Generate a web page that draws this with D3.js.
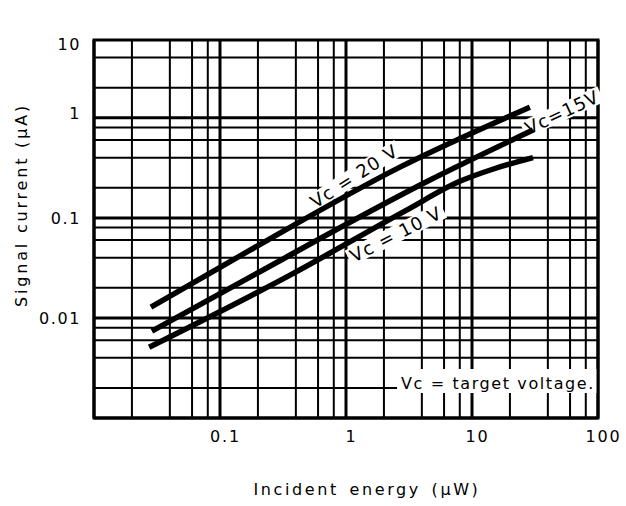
<!DOCTYPE html>
<html>
<head>
<meta charset="utf-8">
<script src="https://cdn.jsdelivr.net/npm/d3@7"></script>
<style>
  html, body { margin: 0; padding: 0; background: #fff; }
  svg { display: block; }
  text { font-family: "DejaVu Sans", sans-serif; fill: #000; }
</style>
</head>
<body>
<svg id="chart" width="626" height="506"></svg>
<script>
// ---- data ----
const xTickValues = [0.1, 1, 10, 100];
const xTickLabels = ["0.1", "1", "10", "100"];
const yTickValues = [0.01, 0.1, 1, 10];
const yTickLabels = ["0.01", "0.1", "1", "10"];
const xDecades = [0.01, 0.1, 1, 10, 100];
const yDecades = [0.001, 0.01, 0.1, 1];
const gridMultipliers = [2, 4, 6, 8];

const seriesNames = ["Vc = 20 V", "Vc=15V", "Vc = 10 V"];
const energy20 = [0.0283, 0.173, 2.68, 28.8];
const current20 = [0.0128, 0.0476, 0.322, 1.28];
const energy15 = [0.0288, 0.173, 4.64, 30.5];
const current15 = [0.00738, 0.0256, 0.239, 0.755];
const energy10 = [0.0274, 0.36, 3.0, 8.0, 15.0, 30.5];
const current10 = [0.0051, 0.0268, 0.119, 0.232, 0.31, 0.40];

// label anchors (data coordinates) and rotation
const labelX = [1.16, 51.8, 2.49];
const labelY = [0.262, 1.14, 0.0689];
const labelAngle = [-33, -25, -27];

const legendText = "Vc = target voltage.";
const xTitle = "Incident energy (\u03bcW)";
const yTitle = "Signal current (\u03bcA)";

// ---- drawing ----
const svg = d3.select("#chart");
const x = d3.scaleLog().domain([0.01, 100]).range([94, 598]);
const y = d3.scaleLog().domain([0.001, 6]).range([418, 40]).clamp(true);

const [x0, x1] = x.range();
const [y0, y1] = y.range();

// grid values
const xGrid = [];
xDecades.forEach(d => {
  xGrid.push({v: d, major: true});
  if (d < 100) gridMultipliers.forEach(m => xGrid.push({v: d * m, major: false}));
});
const yGrid = [];
yDecades.forEach(d => {
  yGrid.push({v: d, major: true});
  gridMultipliers.forEach(m => { if (d * m < 6) yGrid.push({v: d * m, major: false}); });
});

const g = svg.append("g");
g.selectAll(".vgrid").data(xGrid).join("line")
  .attr("x1", d => x(d.v)).attr("x2", d => x(d.v))
  .attr("y1", y0).attr("y2", y1)
  .attr("stroke", "#000").attr("stroke-width", d => d.major ? 3 : 2);
g.selectAll(".hgrid").data(yGrid).join("line")
  .attr("y1", d => y(d.v)).attr("y2", d => y(d.v))
  .attr("x1", x0).attr("x2", x1)
  .attr("stroke", "#000").attr("stroke-width", d => d.major ? 3 : 2);

// legend box (target voltage)
const legend = svg.append("g");
const lt = legend.append("text")
  .attr("x", x1 - 3).attr("y", 389)
  .attr("text-anchor", "end")
  .attr("font-size", 16).attr("letter-spacing", 1.6)
  .text(legendText);
const lb = lt.node().getBBox();
legend.insert("rect", "text")
  .attr("x", lb.x - 4).attr("y", 369)
  .attr("width", x1 - (lb.x - 4)).attr("height", 24)
  .attr("fill", "#fff");

// frame
svg.append("rect")
  .attr("x", x0).attr("y", y1)
  .attr("width", x1 - x0).attr("height", y0 - y1)
  .attr("fill", "none").attr("stroke", "#000").attr("stroke-width", 3);

// annotation label backgrounds
const anns = seriesNames.map((n, i) => ({text: n, x: labelX[i], y: labelY[i], a: labelAngle[i]}));
const annFont = 18, annSpacing = 1.2;
const annBg = svg.append("g").selectAll("g").data(anns).join("g")
  .attr("transform", d => `translate(${x(d.x)},${y(d.y)}) rotate(${d.a})`);
annBg.append("text")
  .attr("text-anchor", "middle").attr("dominant-baseline", "central")
  .attr("font-size", annFont).attr("letter-spacing", annSpacing)
  .text(d => d.text)
  .each(function() {
    const b = this.getBBox();
    d3.select(this.parentNode).insert("rect", "text")
      .attr("x", b.x - 3).attr("y", b.y + 2).attr("width", b.width + 6).attr("height", b.height - 4)
      .attr("fill", "#fff");
  });
annBg.selectAll("text").remove();

// curves
const series = [
  {e: energy20, c: current20},
  {e: energy15, c: current15},
  {e: energy10, c: current10}
];
const line = d3.line().x(d => x(d[0])).y(d => y(d[1])).curve(d3.curveMonotoneX);
svg.append("g").selectAll("path").data(series).join("path")
  .attr("d", s => line(s.e.map((v, i) => [v, s.c[i]])))
  .attr("fill", "none").attr("stroke", "#000").attr("stroke-width", 5.5)
  .attr("stroke-linecap", "butt");

// annotation texts on top
const annTop = svg.append("g").selectAll("g").data(anns).join("g")
  .attr("transform", d => `translate(${x(d.x)},${y(d.y)}) rotate(${d.a})`);
annTop.append("text")
  .attr("text-anchor", "middle").attr("dominant-baseline", "central")
  .attr("font-size", annFont).attr("letter-spacing", annSpacing)
  .text(d => d.text);

// axes tick labels
const xAxis = d3.axisBottom(x).tickValues(xTickValues)
  .tickFormat((d, i) => xTickLabels[i]).tickSize(0).tickPadding(13);
const xa = svg.append("g").attr("transform", `translate(5,${y0})`).call(xAxis);
xa.select(".domain").remove();
xa.selectAll("text").attr("font-size", 16).attr("letter-spacing", 1.8)
  .attr("font-family", "DejaVu Sans, sans-serif");

const yAxis = d3.axisLeft(y).tickValues(yTickValues)
  .tickFormat((d, i) => yTickLabels[i]).tickSize(0).tickPadding(13);
const ya = svg.append("g").attr("transform", `translate(${x0},0)`).call(yAxis);
ya.select(".domain").remove();
ya.selectAll("text").attr("font-size", 16).attr("letter-spacing", 1.6)
  .attr("font-family", "DejaVu Sans, sans-serif");
ya.selectAll(".tick").filter(d => d === 10).attr("transform", `translate(0,${y1 + 5})`);
ya.selectAll(".tick").filter(d => d === 1).attr("transform", `translate(0,${y(1) - 4})`);

// axis titles
svg.append("text")
  .attr("x", 367).attr("y", 495)
  .attr("text-anchor", "middle").attr("font-size", 16).attr("letter-spacing", 2.6)
  .attr("word-spacing", 3)
  .text(xTitle);
svg.append("text")
  .attr("transform", "translate(27,205) rotate(-90)")
  .attr("text-anchor", "middle").attr("font-size", 16).attr("letter-spacing", 2.8)
  .text(yTitle);
</script>
</body>
</html>
